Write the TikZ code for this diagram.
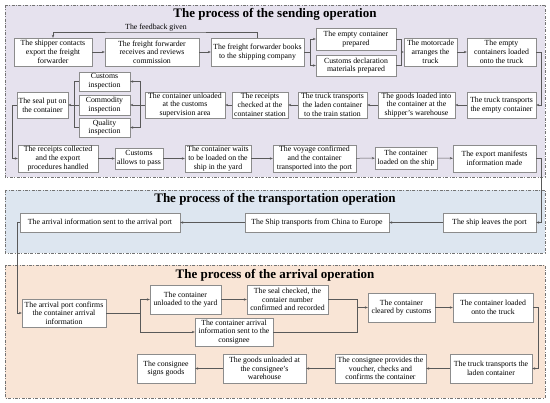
\documentclass[tikz,border=0pt]{standalone}
\usepackage{fontspec}
\setmainfont{Liberation Serif}
\usetikzlibrary{arrows.meta,shadows}
\definecolor{sendbg}{RGB}{230,226,238}
\definecolor{tranbg}{RGB}{221,230,240}
\definecolor{arrbg}{RGB}{249,229,214}
\tikzset{
 box/.style={draw=black!45, line width=0.4pt, fill=white, align=center, inner sep=1pt,
   font=\fontsize{7.8}{8.7}\selectfont,
   drop shadow={shadow xshift=1.2pt, shadow yshift=-1.2pt, fill=black!45, opacity=0.6}},
 conn/.style={draw=black!65, line width=0.5pt},
 arr/.style={conn, -{Stealth[length=3pt,width=2.4pt]}},
 panel/.style={draw=black!55, line width=0.6pt, dash pattern=on 3pt off 1.5pt on 0.8pt off 1.5pt},
 ptitle/.style={font=\fontsize{13}{15}\selectfont\bfseries, inner sep=0pt}
}
\newcommand\flowbox[6]{\node[box,minimum width={(#4-#2)*1pt},minimum height={(#5-#3)*1pt}] (#1) at ({(#2+#4)/2},{(#3+#5)/2}) {#6};}
\begin{document}
\begin{tikzpicture}[x=1pt,y=-1pt]
\useasboundingbox (0,0) rectangle (550,403);
% panels
\path[panel, fill=sendbg] (5,5) rectangle (545,177);
\path[panel, fill=tranbg] (5,190) rectangle (545,253);
\path[panel, fill=arrbg] (5,265) rectangle (545,398);
\node[ptitle] (T1) at (275,14) {The process of the sending operation};
\node[ptitle] (T2) at (275,199) {The process of the transportation operation};
\node[ptitle] (T3) at (275,275) {The process of the arrival operation};
% sending
\flowbox{s1}{14}{38}{92}{66}{The shipper contacts\\export the freight\\forwarder}
\flowbox{s2}{105}{38}{199}{66}{The freight forwarder\\receives and reviews\\commission}
\flowbox{s3}{211}{38}{304}{66}{The freight forwarder books\\to the shipping company}
\flowbox{s4}{316}{28}{396}{50}{The empty container\\prepared}
\flowbox{s5}{316}{55}{396}{76}{Customs declaration\\materials prepared}
\flowbox{s6}{404}{38}{457}{66}{The motorcade\\arranges the\\truck}
\flowbox{s7}{467}{38}{536}{66}{The empty\\containers loaded\\onto the truck}
\flowbox{s8}{467}{92}{536}{118}{The truck transports\\the empty container}
\flowbox{s9}{378}{92}{455}{118}{The goods loaded into\\the container at the\\shipper's warehouse}
\flowbox{s10}{298}{92}{367}{118}{The truck transports\\the laden container\\to the train station}
\flowbox{s11}{232}{92}{288}{118}{The receipts\\checked at the\\container station}
\flowbox{s12}{145}{92}{225}{118}{The container unloaded\\at the customs\\supervision area}
\flowbox{s13}{79}{72}{130}{91}{Customs\\inspection}
\flowbox{s14}{79}{95}{130}{115}{Commodity\\inspection}
\flowbox{s15}{79}{118}{130}{137}{Quality\\inspection}
\flowbox{s16}{17}{92}{68}{118}{The seal put on\\the container}
\flowbox{s17}{18}{145}{98}{172}{The receipts collected\\and the export\\procedures handled}
\flowbox{s18}{115}{148}{163}{169}{Customs\\allows to pass}
\flowbox{s19}{185}{145}{251}{172}{The container waits\\to be loaded on the\\ship in the yard}
\flowbox{s20}{273}{145}{356}{172}{The voyage confirmed\\and the container\\transported into the port}
\flowbox{s21}{375}{147}{437}{169}{The container\\loaded on the ship}
\flowbox{s22}{453}{145}{536}{172}{The export manifests\\information made}
% transport
\flowbox{t1}{443}{213}{536}{232}{The ship leaves the port}
\flowbox{t2}{245}{213}{389}{232}{The Ship transports from China to Europe}
\flowbox{t3}{20}{213}{180}{232}{The arrival information sent to the arrival port}
% arrival
\flowbox{a1}{22}{299}{106}{327}{The arrival port confirms\\the container arrival\\information}
\flowbox{a2}{150}{285}{221}{314}{The container\\unloaded to the yard}
\flowbox{a3}{247}{285}{328}{314}{The seal checked, the\\contaier number\\confirmed and recorded}
\flowbox{a4}{195}{318}{273}{346}{The container arrival\\information sent to the\\consignee}
\flowbox{a5}{368}{293}{435}{322}{The container\\cleared by customs}
\flowbox{a6}{453}{293}{533}{322}{The container loaded\\onto the truck}
\flowbox{a7}{450}{354}{532}{383}{The truck transports the\\laden container}
\flowbox{a8}{335}{354}{426}{383}{The consignee provides the\\voucher, checks and\\confirms the container}
\flowbox{a9}{223}{354}{306}{383}{The goods unloaded at\\the consignee's\\warehouse}
\flowbox{a10}{137}{354}{195}{383}{The consignee\\signs goods}
% coordinates
\coordinate (fb) at (156,32);
\coordinate (f1) at (310,52);
\coordinate (m1) at (401,52);
\coordinate (f2) at (140,105);
\coordinate (m2) at (74,105);
\coordinate (f3) at (140,313);
\coordinate (m3) at (357,307.5);
% sending connectors
\draw[arr] (s1) -- (s2);
\draw[arr] (s2) -- (s3);
\draw[arr] (s3.north) |- (fb) -| (s1.north);
\node[font=\fontsize{7.8}{9}\selectfont, inner sep=0.5pt, anchor=south] (fbl) at (fb) {The feedback given};
\draw[conn] (s3.east) -- (f1);
\draw[arr] (f1) |- (s4.west);
\draw[arr] (f1) |- (s5.west);
\draw[conn] (s4.east) -| (m1);
\draw[conn] (s5.east) -| (m1);
\draw[arr] (m1) -- (s6.west);
\draw[arr] (s6) -- (s7);
\draw[arr] (s7.east) -- ++(5,0) |- (s8.east);
\draw[arr] (s8) -- (s9);
\draw[arr] (s9) -- (s10);
\draw[arr] (s10) -- (s11);
\draw[arr] (s11) -- (s12);
\draw[conn] (s12.west) -- (f2);
\draw[arr] (f2) |- (s13.east);
\draw[arr] (f2) -- (s14.east);
\draw[arr] (f2) |- (s15.east);
\draw[conn] (s13.west) -| (m2);
\draw[conn] (s15.west) -| (m2);
\draw[arr] (s14.west) -- (s16.east);
\draw[arr] (s16.west) -- ++(-5,0) |- (s17.west);
\draw[arr] (s17) -- (s18);
\draw[arr] (s18) -- (s19);
\draw[arr] (s19) -- (s20);
\draw[arr] (s20) -- (s21);
\draw[arr] (s21) -- (s22);
\draw[arr] (s22.east) -- ++(5,0) |- (t1.east);
% transport connectors
\draw[arr] (t1) -- (t2);
\draw[arr] (t2) -- (t3);
\draw[arr] (t3.west) -- ++(-3,0) |- (a1.west);
% arrival connectors
\draw[conn] (a1.east) -- (f3);
\draw[arr] (f3) |- (a2.west);
\draw[arr] (f3) |- (a4.west);
\draw[arr] (a2) -- (a3);
\draw[conn] (a3.east) -| (m3);
\draw[conn] (a4.east) -| (m3);
\draw[arr] (m3) -- (a5.west);
\draw[arr] (a5) -- (a6);
\draw[arr] (a6.east) -- ++(5,0) |- (a7.east);
\draw[arr] (a7) -- (a8);
\draw[arr] (a8) -- (a9);
\draw[arr] (a9) -- (a10);
\end{tikzpicture}
\end{document}
